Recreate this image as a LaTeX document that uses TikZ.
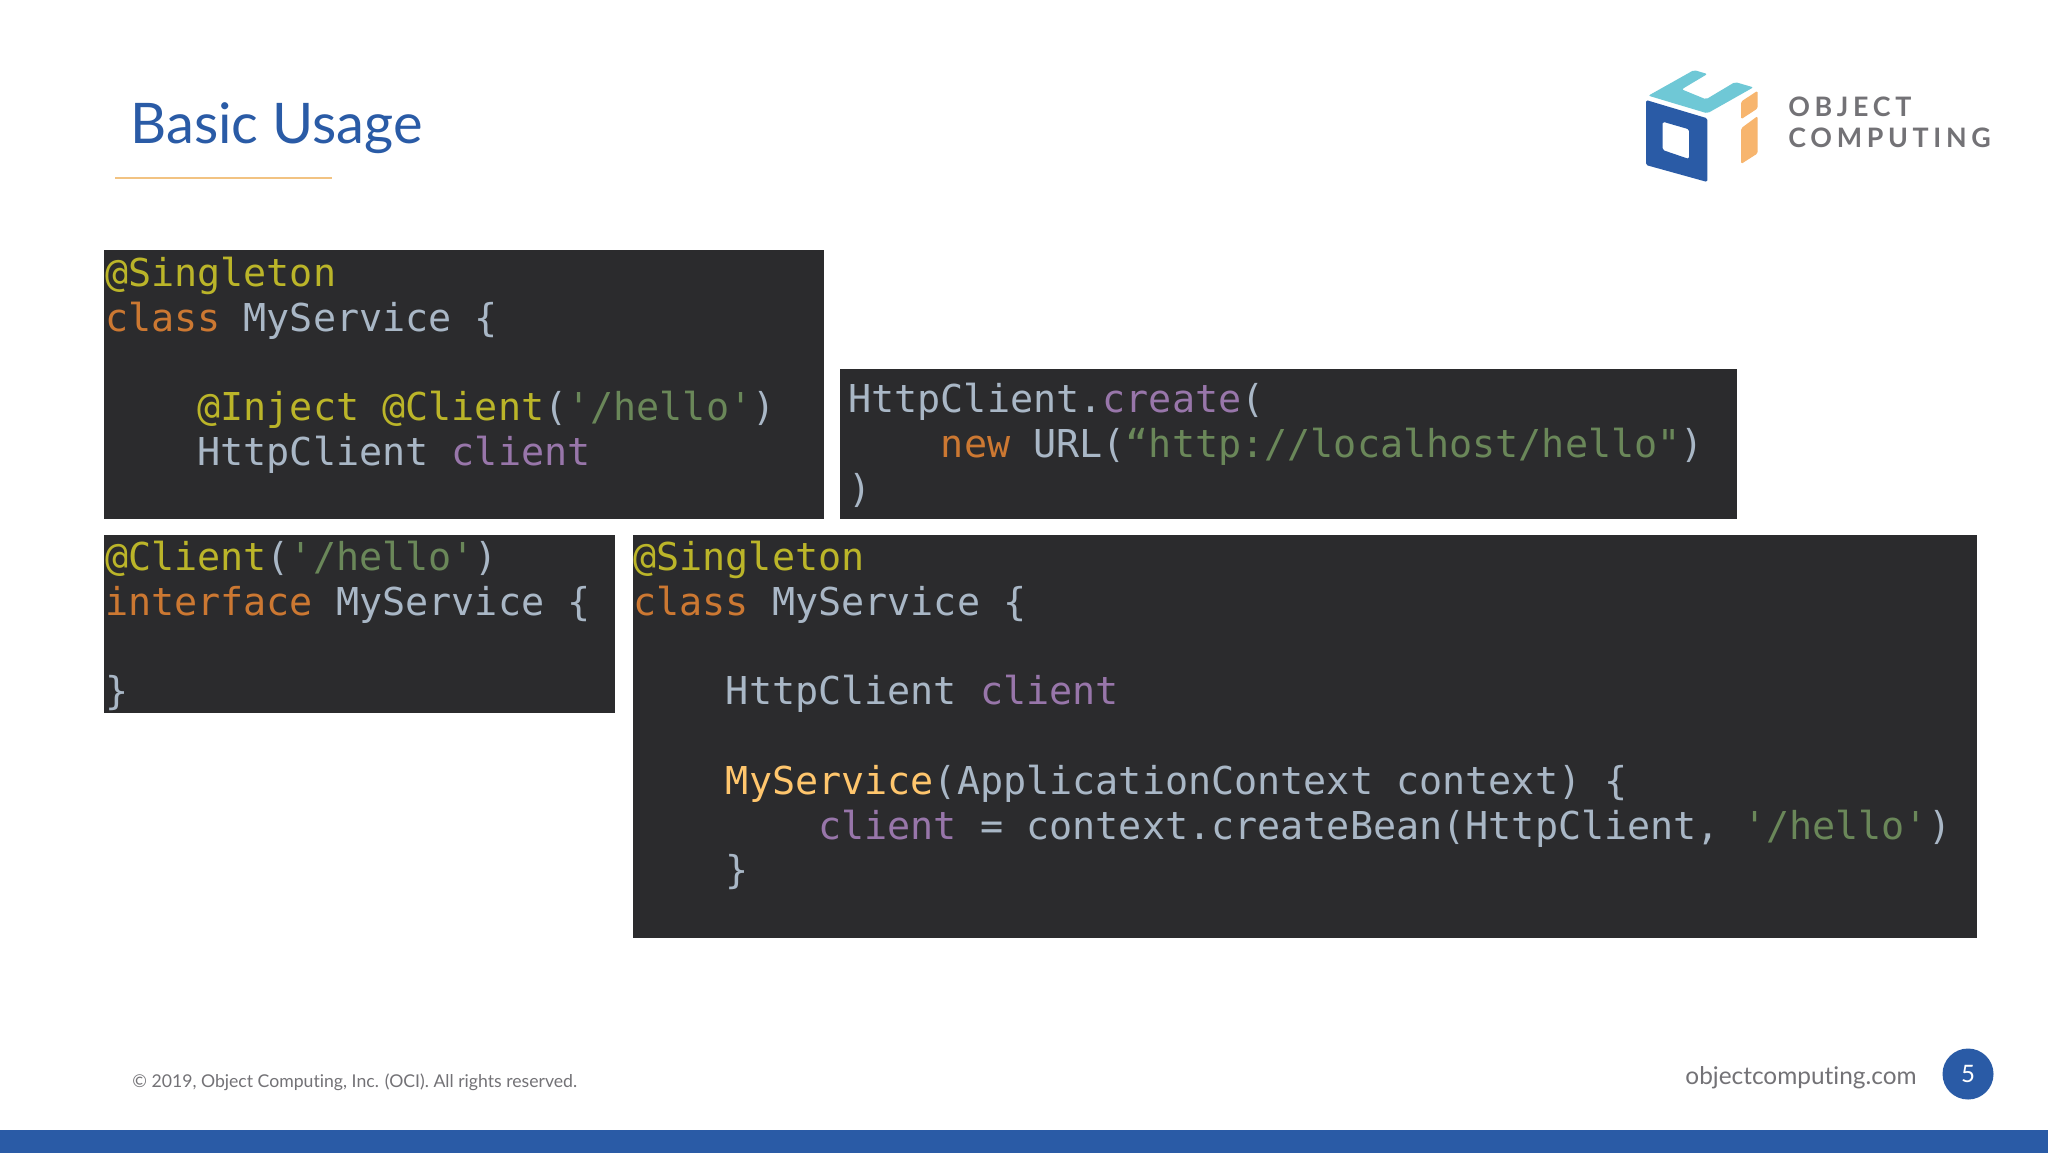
\documentclass[tikz,border=0pt]{standalone}
\usepackage{fontspec}
\setmainfont{Lato}[Ligatures=NoCommon]
\newfontfamily\codefont{DejaVu Sans Mono}
\newfontfamily\logofont[LetterSpace=17.5]{Lato Bold}
\definecolor{ociblue}{HTML}{2A5BA6}
\definecolor{ocicyan}{HTML}{6FC8D6}
\definecolor{ociorange}{HTML}{F7B56E}
\definecolor{ocigold}{HTML}{F2C382}
\definecolor{ocigray}{HTML}{737276}
\definecolor{codebg}{HTML}{2B2B2D}
\definecolor{cann}{HTML}{BBB529}
\definecolor{ckey}{HTML}{CC7832}
\definecolor{ctxt}{HTML}{A9B7C6}
\definecolor{cstr}{HTML}{6A8759}
\definecolor{cvar}{HTML}{9876AA}
\definecolor{cfun}{HTML}{FFC66D}
\newcommand{\An}[1]{\textcolor{cann}{#1}}
\newcommand{\Ke}[1]{\textcolor{ckey}{#1}}
\newcommand{\St}[1]{\textcolor{cstr}{#1}}
\newcommand{\Va}[1]{\textcolor{cvar}{#1}}
\newcommand{\Fu}[1]{\textcolor{cfun}{#1}}
\newcommand{\Ind}[1]{\hspace*{#1\dimexpr 11.56pt\relax}}
\tikzset{
  x=0.5pt,y=-0.5pt,
  codebox/.style={fill=codebg,draw=none,inner sep=0pt,rounded corners=0pt},
  code/.style={anchor=north west,inner sep=0pt,align=left,text=ctxt,
    font=\codefont\fontsize{19.2pt}{22.36pt}\selectfont},
  plain/.style={anchor=base west,inner sep=0pt},
}
\begin{document}
\begin{tikzpicture}
\useasboundingbox (0,0) rectangle (2048,1153);
\fill[white] (0,0) rectangle (2048,1153);
% title
\node[plain,text=ociblue,font=\fontsize{28pt}{30pt}\selectfont] (title) at (130,143.5) {Basic Usage};
\coordinate (ruleA) at (115,177.5);
\coordinate (ruleB) at (332,177.5);
\draw[ocigold,line width=1pt] (ruleA) -- (ruleB);
% logo
\begin{scope}[shift={(1620,50)},x=0.16667pt,y=-0.16667pt]
\fill[ocicyan,rounded corners=1pt] (85,137) -- (222,60) -- (262,72) -- (185,118) -- (258,148) -- (345,96) -- (400,112) -- (262,190) -- cycle;
\fill[ociblue,even odd rule,rounded corners=0.8pt] (78,150) -- (262,205) -- (262,396) -- (78,345) -- cycle (128,215) -- (207,238) -- (207,327) -- (128,300) -- cycle;
\fill[ociorange,rounded corners=0.8pt] (363,155) -- (413,122) -- (413,175) -- (363,208) -- cycle;
\fill[ociorange,rounded corners=0.8pt] (363,235) -- (413,198) -- (413,310) -- (363,342) -- cycle;
\end{scope}
\node[plain,text=ocigray,font=\logofont\fontsize{13.4pt}{15pt}\selectfont] (logoA) at (1788,116) {OBJECT};
\node[plain,text=ocigray,font=\logofont\fontsize{13.4pt}{15pt}\selectfont] (logoB) at (1788,147) {COMPUTING};
% boxes
\fill[codebox] (104,250) rectangle (823.5,519);
\fill[codebox] (840,368.5) rectangle (1737,519);
\fill[codebox] (104,535) rectangle (615,713);
\fill[codebox] (633,535) rectangle (1977,938);
% code
\node[code] (c1) at (104.6,257) {\An{@Singleton}\\
\Ke{class} MyService \{\\
\mbox{}\\
\Ind{4}\An{@Inject @Client}(\St{'/hello'})\\
\Ind{4}HttpClient \Va{client}};
\node[code] (c2) at (848,383) {HttpClient.\Va{create}(\\
\Ind{4}\Ke{new} URL(\St{“http://localhost/hello"})\\
)};
\node[code] (c3) at (104.6,541) {\An{@Client}(\St{'/hello'})\\
\Ke{interface} MyService \{\\
\mbox{}\\
\}};
\node[code] (c4) at (633,541) {\An{@Singleton}\\
\Ke{class} MyService \{\\
\mbox{}\\
\Ind{4}HttpClient \Va{client}\\
\mbox{}\\
\Ind{4}\Fu{MyService}(ApplicationContext context) \{\\
\Ind{8}\Va{client} = context.createBean(HttpClient, \St{'/hello'})\\
\Ind{4}\}};
% footer
\fill[ociblue] (0,1130) rectangle (2048,1153);
\node[plain,text=ocigray,font=\fontsize{8.82pt}{10pt}\selectfont] (copy) at (132,1087) {© 2019, Object Computing, Inc. (OCI). All rights reserved.};
\node[plain,text=ocigray,font=\fontsize{12.2pt}{14pt}\selectfont] (site) at (1685,1084) {objectcomputing.com};
\node[circle,fill=ociblue,text=white,inner sep=0pt,minimum size=25.5pt,font=\fontsize{12pt}{14pt}\selectfont] (page) at (1968,1074) {5};
\end{tikzpicture}
\end{document}
